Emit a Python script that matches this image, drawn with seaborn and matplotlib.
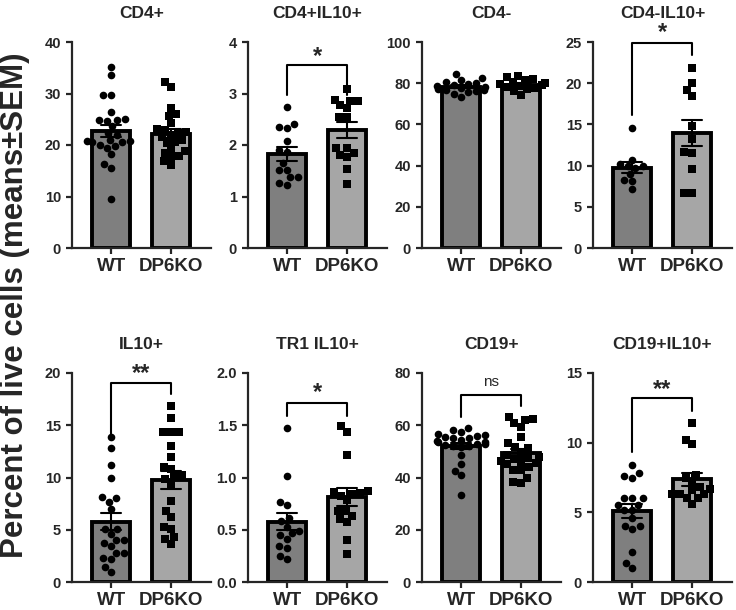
import numpy as np
import pandas as pd
import matplotlib
matplotlib.use("Agg")
import matplotlib.pyplot as plt
import seaborn as sns

groups = ["WT", "DP6KO"]
colors = {"WT": "#7f7f7f", "DP6KO": "#a6a6a6"}

# values (percent of live cells)
cd4_wt = [35.2, 33.6, 29.8, 29.7, 26.4, 25.0, 24.9, 24.8, 24.6, 23.6, 22.4, 21.9,
          21.0, 20.8, 20.8, 20.6, 20.5, 20.0, 19.8, 19.5, 18.2, 16.4, 15.6, 9.6]
cd4_ko = [32.2, 31.2, 27.2, 26.0, 25.6, 24.2, 23.1, 23.0, 22.6, 22.3, 21.9, 21.6,
          21.0, 20.6, 20.4, 19.2, 18.9, 18.5, 17.9, 17.7, 16.8, 16.1]

cd4il10_wt = [2.73, 2.41, 2.35, 2.33, 2.08, 1.90, 1.87, 1.65, 1.52, 1.52, 1.37, 1.37, 1.23, 1.27]
cd4il10_ko = [3.08, 2.85, 2.88, 2.85, 2.77, 2.71, 2.54, 2.55, 1.94, 1.94, 1.84, 1.81, 1.77, 1.53, 1.25]

cd4neg_wt = [84.5, 82.5, 81.5, 80.5, 80.0, 79.5, 79.0, 78.5, 78.0, 77.5, 77.0, 76.5,
             76.5, 76.0, 75.5, 75.0, 73.5]
cd4neg_ko = [83.5, 83.0, 82.0, 81.5, 80.5, 80.0, 79.5, 79.0, 78.5, 78.0, 77.5, 77.0, 76.0, 74.5]

cd4negil10_wt = [14.6, 10.7, 10.2, 10.0, 9.9, 9.7, 9.0, 8.3, 8.1, 7.1]
cd4negil10_ko = [21.9, 20.0, 19.2, 18.5, 14.8, 13.2, 11.6, 11.5, 9.6, 6.7, 6.7]

il10_wt = [13.9, 12.8, 11.2, 10.0, 8.1, 8.0, 7.7, 7.0, 5.1, 5.1, 4.6, 4.0, 4.0, 3.7,
           3.4, 2.8, 2.8, 2.3, 2.2, 1.4, 0.95]
il10_ko = [16.8, 15.7, 14.4, 14.4, 14.4, 13.0, 12.0, 11.0, 10.8, 10.2, 10.1, 9.9, 9.4,
           7.75, 6.8, 6.25, 5.3, 5.1, 4.3, 4.1, 3.6]

tr1_wt = [1.47, 1.01, 0.74, 0.77, 0.61, 0.58, 0.45, 0.53, 0.47, 0.49, 0.41, 0.34, 0.33, 0.25, 0.22]
tr1_ko = [1.49, 1.44, 1.22, 0.87, 0.86, 0.85, 0.84, 0.82, 0.78, 0.68, 0.68, 0.63, 0.60,
          0.57, 0.40, 0.27]

cd19_wt = [58.8, 58.0, 57.5, 56.5, 56.3, 56.0, 55.5, 55.0, 55.0, 54.5, 54.0, 53.5,
           53.0, 53.5, 53.0, 52.5, 52.0, 52.0, 51.5, 48.5, 45.0, 42.5, 40.8, 33.2]
cd19_ko = [63.0, 62.5, 62.0, 60.7, 59.5, 55.6, 48.0, 46.5, 53.1, 51.8, 51.3, 49.9,
           48.5, 47.3, 47.0, 45.4, 45.0, 46.0, 44.0, 43.0, 42.9, 39.9, 38.3, 37.8]

cd19il10_wt = [8.4, 7.8, 7.6, 7.5, 6.0, 6.0, 6.0, 5.55, 5.55, 5.2, 5.2, 4.6, 4.0, 4.0,
               3.8, 2.15, 1.36, 1.0]
cd19il10_ko = [11.4, 10.2, 9.9, 7.7, 7.5, 7.2, 6.8, 6.7, 6.6, 6.3, 6.3, 6.3, 6.0, 6.0, 5.6]

titles = ["CD4+", "CD4+IL10+", "CD4-", "CD4-IL10+",
          "IL10+", "TR1 IL10+", "CD19+", "CD19+IL10+"]
wt_sets = [cd4_wt, cd4il10_wt, cd4neg_wt, cd4negil10_wt, il10_wt, tr1_wt, cd19_wt, cd19il10_wt]
ko_sets = [cd4_ko, cd4il10_ko, cd4neg_ko, cd4negil10_ko, il10_ko, tr1_ko, cd19_ko, cd19il10_ko]
y_max = [40, 4, 100, 25, 20, 2.0, 80, 15]
y_step = [10, 1, 20, 5, 5, 0.5, 20, 5]

# significance brackets: label, left leg end, top, right leg end, label y
sig_labels = [None, "*", None, "*", "**", "*", "ns", "**"]
sig_left = [None, 2.97, None, 16.1, 14.2, 1.59, 63.1, 9.3]
sig_top = [None, 3.55, None, 24.9, 19.0, 1.71, 71.7, 13.2]
sig_right = [None, 2.97, None, 23.4, 18.0, 1.59, 67.2, 12.3]
sig_text_y = [None, 3.72, None, 26.1, 19.95, 1.81, 76.5, 13.85]

sns.set_style("ticks")
plt.rcParams["font.family"] = ["Liberation Sans", "DejaVu Sans"]
plt.rcParams["font.weight"] = "bold"

W, H = 736, 610
fig = plt.figure(figsize=(W / 100, H / 100), dpi=100)
lefts = [72, 248, 422, 593]
bottoms = [H - 248, H - 582]
heights = [206, 209]

for i in range(8):
    r, c = divmod(i, 4)
    ax = fig.add_axes([lefts[c] / W, bottoms[r] / H, 139 / W, heights[r] / H])
    wt, ko = wt_sets[i], ko_sets[i]
    df = pd.DataFrame({"group": ["WT"] * len(wt) + ["DP6KO"] * len(ko),
                       "value": wt + ko})
    sns.barplot(data=df, x="group", y="value", hue="group", order=groups,
                hue_order=groups, palette=colors, legend=False, errorbar="se",
                capsize=0.33, width=0.63, edgecolor="black", linewidth=2.8,
                err_kws={"color": "black", "linewidth": 1.5}, ax=ax)
    for g, m in zip(groups, ["o", "s"]):
        sns.swarmplot(data=df[df["group"] == g], x="group", y="value", order=groups,
                      color="black", marker=m, size=5.5, warn_thresh=1,
                      zorder=3, ax=ax)

    ax.set_ylim(0, y_max[i])
    ax.set_yticks(np.arange(0, y_max[i] + y_step[i] / 2, y_step[i]))
    ax.set_xlim(-0.65, 1.66)
    ax.set_xlabel("")
    ax.set_ylabel("")
    ax.set_title(titles[i], fontsize=12.5, fontweight="bold", pad=17)
    sns.despine(ax=ax)
    for s in ["left", "bottom"]:
        ax.spines[s].set_linewidth(1.6)
    ax.tick_params(width=1.6, length=4.5, labelsize=10.5)
    ax.tick_params(axis="x", labelsize=13.5, pad=3)

    if sig_labels[i]:
        ax.plot([0, 0, 1, 1], [sig_left[i], sig_top[i], sig_top[i], sig_right[i]],
                color="black", lw=1.5, clip_on=False)
        if sig_labels[i] == "ns":
            ax.text(0.5, sig_text_y[i], "ns", ha="center", va="center",
                    fontsize=11, fontweight="normal")
        else:
            ax.text(0.5, sig_text_y[i], sig_labels[i], ha="center", va="center",
                    fontsize=17, fontweight="bold")

fig.text(0.021, 0.5, "Percent of live cells (means±SEM)", rotation=90,
         ha="center", va="center", fontsize=22.5, fontweight="bold")

fig.savefig("out.png", dpi=100)
